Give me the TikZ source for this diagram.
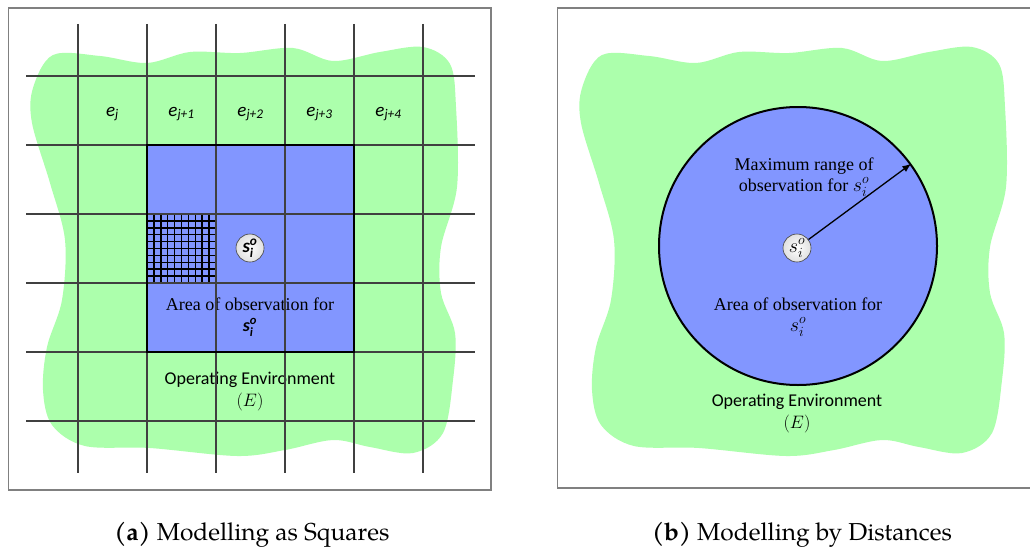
\RequirePackage{fix-cm}
\documentclass[tikz,border=0pt]{standalone}
\usepackage{amsmath}
\usepackage{fontspec}
\setmainfont{Liberation Serif}
\newfontfamily\carlito{Carlito}
\newfontfamily\capfont{TeX Gyre Pagella}
\usetikzlibrary{arrows.meta}
\definecolor{envgreen}{RGB}{172,255,172}
\definecolor{obsblue}{RGB}{130,150,255}
\definecolor{gridgray}{RGB}{64,64,64}
\definecolor{framegray}{RGB}{128,128,128}
\newcommand\sioB{{\carlito\bfseries\itshape s$_\text{i}^\text{o}$}}
\newcommand\sioM{{\fontsize{20}{21}\selectfont$s_i^o$}}
\begin{document}
\begin{tikzpicture}[x=1pt,y=-1pt,
  frame/.style={draw=framegray, line width=1.2pt},
  gridline/.style={draw=gridgray, line width=1.3pt},
  fineline/.style={draw=black, line width=1.5pt},
  agent/.style={circle, draw=black!75, line width=0.6pt, inner sep=0pt, minimum size=28pt, inner color=white, outer color=black!12},
  serif/.style={font=\fontsize{18}{21}\selectfont, align=center},
  sans/.style={font=\carlito\fontsize{18}{22}\selectfont, align=center},
  elabel/.style={font=\carlito\itshape\fontsize{19}{20}\selectfont},
  caption/.style={font=\capfont\fontsize{24.5}{27}\selectfont}]
\useasboundingbox (0,0) rectangle (1030,551);
\fill[white] (0,0) rectangle (1030,551);
% frames
\draw[frame] (8.5,8) rectangle (491,490);
\draw[frame] (557.5,8) rectangle (1045,488);
% environment blobs
\foreach \sx in {0,549} {
  \fill[envgreen, xshift=\sx] plot[smooth cycle, tension=0.55] coordinates {
    (53,55) (100,56) (147,63) (190,52) (240,53) (293,48) (333,61) (380,52)
    (423,47) (450,64) (456,107) (457,187) (441,247) (441,293) (455,333)
    (453,380) (443,433) (413,453) (370,447) (333,440) (285,450) (237,456)
    (150,448) (85,446) (52,425) (43,390) (47,347) (62,300) (65,240)
    (50,183) (32,123) (33,88)};
}
% ---------- panel (a)
\fill[obsblue] (147,145) rectangle (354,352);
\foreach \i in {0,...,10} {
  \draw[fineline] ({147+6.9*\i},214) -- ({147+6.9*\i},283);
  \draw[fineline] (147,{214+6.9*\i}) -- (216,{214+6.9*\i});
}
\node[serif] (area1) at (250,317) {Area of observation for\\\sioB};
\node[sans] (env1) at (250,392) {Operating Environment\\$(E)$};
\foreach \x in {78,147,216,285,354,423} \draw[gridline] (\x,24) -- (\x,473);
\foreach \y in {76,145,214,283,352,421} \draw[gridline] (26,\y) -- (475,\y);
\draw[black, line width=2pt] (147,145) rectangle (354,352);
\node[agent, font=\fontsize{19}{19}\selectfont] (s1) at (250,248) {\sioB};
\node[elabel] (e0) at (112.5,114) {e$_\text{j}$};
\node[elabel] (e1) at (181.5,114) {e$_\text{j+1}$};
\node[elabel] (e2) at (250.5,114) {e$_\text{j+2}$};
\node[elabel] (e3) at (319.5,114) {e$_\text{j+3}$};
\node[elabel] (e4) at (388.5,114) {e$_\text{j+4}$};
% ---------- panel (b)
\node[circle, draw=black, line width=2pt, fill=obsblue, inner sep=0pt, minimum size=278pt] (range) at (798,246) {};
\node[agent, font=\fontsize{20}{20}\selectfont] (s2) at (797,248) {$s_i^o$};
\draw[line width=1.3pt, -{Latex[length=9pt,width=7pt]}] (s2) -- (range.36.5);
\node[serif] (maxr) at (804,177) {Maximum range of\\observation for \sioM};
\node[serif] (area2) at (798,317) {Area of observation for\\\sioM};
\node[sans] (env2) at (797,414) {Operating Environment\\$(E)$};
% captions
\node[caption] (capa) at (252,535) {\textbf{(a)} Modelling as Squares};
\node[caption] (capb) at (802,535) {\textbf{(b)} Modelling by Distances};
\end{tikzpicture}
\end{document}
